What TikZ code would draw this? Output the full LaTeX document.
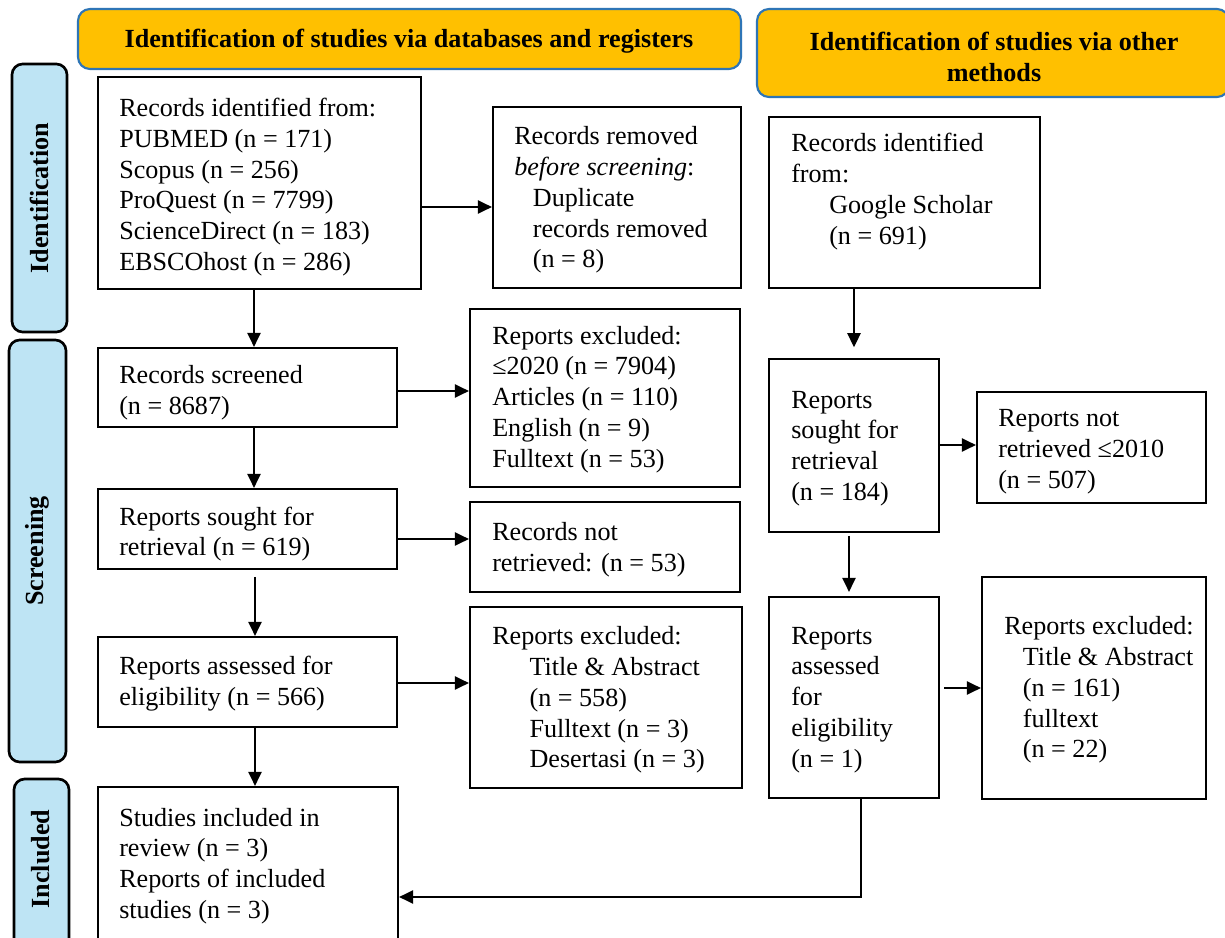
\documentclass[tikz,border=0pt]{standalone}
\usepackage{fontspec}
\setmainfont{Liberation Serif}
\usetikzlibrary{fit,arrows.meta}
\definecolor{hdrfill}{HTML}{FFC000}
\definecolor{hdrline}{HTML}{2E75B6}
\definecolor{barfill}{HTML}{BEE4F4}
\begin{document}
\begin{tikzpicture}[x=0.75pt,y=-0.75pt,
  every node/.style={font=\fontsize{19.6}{23.1}\selectfont},
  box/.style={draw=black, line width=1.7pt, inner sep=0pt},
  hdr/.style={draw=hdrline, fill=hdrfill, line width=1.6pt, rounded corners=9pt, inner sep=0pt},
  bar/.style={draw=black, fill=barfill, line width=2pt, rounded corners=8pt, inner sep=0pt},
  txt/.style={anchor=west, align=left, inner sep=0pt},
  hdrtxt/.style={align=center, inner sep=0pt, font=\fontsize{19.6}{23.1}\selectfont\bfseries},
  bartxt/.style={rotate=90, inner sep=0pt, font=\fontsize{19.6}{23.1}\selectfont\bfseries},
  arr/.style={-{Triangle[length=10.5pt,width=10pt]}, line width=1pt}]
\useasboundingbox (0,0) rectangle (1225,938);
\fill[white] (0,0) rectangle (1225,938);

% headers
\node[hdr, fit={(78,9) (741,69)}] (h1) {};
\node[hdrtxt] (h1t) at (409,41) {Identification of studies via databases and registers};
\node[hdr, fit={(757,9) (1229,97)}] (h2) {};
\node[hdrtxt] (h2t) at (994,57) {Identification of studies via other\\methods};

% side bars
\node[bar, fit={(12,64) (67,332)}] (s1) {};
\node[bartxt] (s1t) at (s1.center) {Identification};
\node[bar, fit={(9,340) (66,762)}] (s2) {};
\node[bartxt] (s2t) at (s2.center) {Screening};
\node[bar, fit={(14,779) (69,975)}] (s3) {};
\node[bartxt] (s3t) at (41,859) {Included};

% left column boxes
\node[box, fit={(98,77) (421,289)}] (b1) {};
\node[txt] (t1) at (119,187) {Records identified from:\\PUBMED (n = 171)\\Scopus (n = 256)\\ProQuest (n = 7799)\\ScienceDirect (n = 183)\\EBSCOhost (n = 286)};
\node[box, fit={(493,107) (741,288)}] (b2) {};
\node[txt] (t2) at (514,200) {Records removed\\\textit{before screening}:\\\hspace*{14pt}Duplicate\\\hspace*{14pt}records removed\\\hspace*{14pt}(n = 8)};
\node[box, fit={(98,348) (397,427)}] (b4) {};
\node[txt] (t4) at (119,393) {Records screened\\(n = 8687)};
\node[box, fit={(470,309) (740,487)}] (b5) {};
\node[txt] (t5) at (492,399.5) {Reports excluded:\\≤2020 (n = 7904)\\Articles (n = 110)\\English (n = 9)\\Fulltext (n = 53)};
\node[box, fit={(98,489) (397,569)}] (b6) {};
\node[txt] (t6) at (119,534) {Reports sought for\\retrieval (n = 619)};
\node[box, fit={(470,502) (740,592)}] (b7) {};
\node[txt] (t7) at (492,550) {Records not\\retrieved: (n = 53)};
\node[box, fit={(98,637) (397,727)}] (b8) {};
\node[txt] (t8) at (119,684) {Reports assessed for\\eligibility (n = 566)};
\node[box, fit={(470,607) (742,788)}] (b9) {};
\node[txt] (t9) at (492,700) {Reports excluded:\\\hspace*{28pt}Title \& Abstract\\\hspace*{28pt}(n = 558)\\\hspace*{28pt}Fulltext (n = 3)\\\hspace*{28pt}Desertasi (n = 3)};
\node[box, fit={(98,787) (398,975)}] (b10) {};
\node[txt] (t10) at (119,866) {Studies included in\\review (n = 3)\\Reports of included\\studies (n = 3)};

% right column boxes
\node[box, fit={(769,117) (1040,288)}] (b3) {};
\node[txt] (t3) at (791,191.5) {Records identified\\from:\\\hspace*{28.5pt}Google Scholar\\\hspace*{28.5pt}(n = 691)};
\node[box, fit={(769,359) (939,532)}] (b11) {};
\node[txt] (t11) at (791,448.5) {Reports\\sought for\\retrieval\\(n = 184)};
\node[box, fit={(977,392) (1206,503)}] (b12) {};
\node[txt] (t12) at (998,452) {Reports not\\retrieved ≤2010\\(n = 507)};
\node[box, fit={(769,597) (939,798)}] (b13) {};
\node[txt] (t13) at (791,700) {Reports\\assessed\\for\\eligibility\\(n = 1)};
\node[box, fit={(982,577) (1206,799)}] (b14) {};
\node[txt] (t14) at (1004,690) {Reports excluded:\\\hspace*{14pt}Title \& Abstract\\\hspace*{14pt}(n = 161)\\\hspace*{14pt}fulltext\\\hspace*{14pt}(n = 22)};

% helper coordinates
\coordinate (xa) at (254,0);
\coordinate (xb) at (255,0);
\coordinate (xc) at (854,0);
\coordinate (xd) at (849,0);
\coordinate (xe) at (861,0);
\coordinate (ya) at (0,207);
\coordinate (yb) at (0,391);
\coordinate (yc) at (0,539);
\coordinate (yd) at (0,683);
\coordinate (ye) at (0,445);
\coordinate (yf) at (0,688);
\coordinate (yg) at (0,897);

% connectors left
\draw[arr] (b1.east |- ya) -- (b2.west |- ya);
\draw[arr] (xa |- b1.south) -- (xa |- b4.north);
\draw[arr] (b4.east |- yb) -- (b5.west |- yb);
\draw[arr] (xa |- b4.south) -- (xa |- b6.north);
\draw[arr] (b6.east |- yc) -- (b7.west |- yc);
\draw[arr, shorten <=5pt] (xb |- b6.south) -- (xb |- b8.north);
\draw[arr] (b8.east |- yd) -- (b9.west |- yd);
\draw[arr] (xb |- b8.south) -- (xb |- b10.north);

% connectors right
\draw[arr, shorten >=8pt] (xc |- b3.south) -- (xc |- b11.north);
\draw[arr] (b11.east |- ye) -- (b12.west |- ye);
\draw[arr, shorten <=2pt, shorten >=3pt] (xd |- b11.south) -- (xd |- b13.north);
\draw[arr, shorten <=3pt] (b13.east |- yf) -- (b14.west |- yf);
\draw[arr] (xe |- b13.south) |- (b10.east |- yg);
\end{tikzpicture}
\end{document}
